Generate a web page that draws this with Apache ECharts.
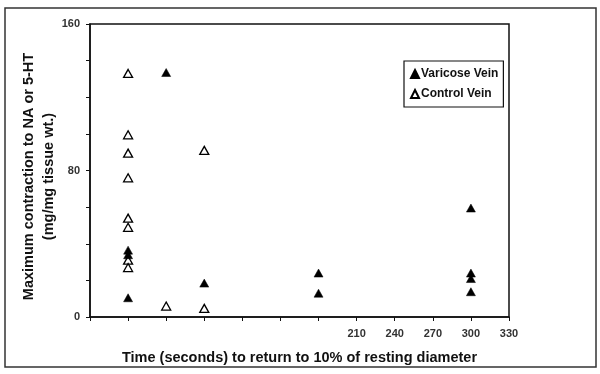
<!DOCTYPE html>
<html><head><meta charset="utf-8">
<script src="https://cdn.jsdelivr.net/npm/echarts@6/dist/echarts.min.js"></script>
<style>html,body{margin:0;padding:0;background:#fff}#c{width:600px;height:374px}</style>
</head><body><div id="c"></div>
<script>
var xTicks = [0,30,60,90,120,150,180,210,240,270,300,330];
var xLabelsShown = [210,240,270,300,330];
var yLabelsShown = [0,80,160];
var varicoseX = [30,30,30,60,90,180,180,300,300,300,300];
var varicoseY = [36.5,34,10.5,133.5,18.5,24,13,59.5,24,21,13.8];
var controlX = [30,30,30,30,30,30,30,30,60,90,90];
var controlY = [133,99.5,89.5,76,54,49,31,27,6,91,4.7];
function pairs(xs, ys){ return xs.map(function(x,i){return [x, ys[i]];}); }
var font = 'Liberation Sans, Arial, sans-serif';
var chart = echarts.init(document.getElementById('c'));
chart.setOption({
  animation:false,
  graphic:[{type:'rect', shape:{x:5,y:8,width:591,height:359}, style:{fill:'none', stroke:'#333', lineWidth:1.5}, z:-1}],
  grid:{left:90, top:24, right:91, bottom:57, show:true, borderColor:'#111', borderWidth:1.5, backgroundColor:'transparent'},
  legend:{
    orient:'vertical', left:404, top:61,
    backgroundColor:'#fff', borderColor:'#111', borderWidth:1.2,
    padding:[7,5,7,6], itemWidth:8, itemHeight:8, itemGap:8,
    textStyle:{fontFamily:font, fontWeight:'bold', fontSize:12, color:'#111', padding:[0,0,0,-3]},
    data:['Varicose Vein','Control Vein']
  },
  xAxis:{
    type:'value', min:0, max:330, interval:30,
    name:'Time (seconds) to return to 10% of resting diameter', nameLocation:'middle', nameGap:33, nameMoveOverlap:false,
    nameTextStyle:{fontFamily:font, fontWeight:'bold', fontSize:14.5, color:'#111'},
    axisLine:{show:true, lineStyle:{color:'#111', width:1.5}},
    axisTick:{show:true, length:4, lineStyle:{color:'#111'}},
    axisLabel:{fontFamily:font, fontWeight:'bold', fontSize:11, color:'#333', margin:11,
      formatter:function(v){ return xLabelsShown.indexOf(v)>=0 ? String(v) : ''; }},
    splitLine:{show:false}
  },
  yAxis:{
    type:'value', min:0, max:160, interval:20,
    name:'Maximum contraction to NA or 5-HT\n(mg/mg tissue wt.)', nameLocation:'middle', nameGap:31, nameMoveOverlap:false,
    nameTextStyle:{fontFamily:font, fontWeight:'bold', fontSize:14.5, color:'#111', lineHeight:20, padding:[0,12,0,0]},
    axisLine:{show:true, lineStyle:{color:'#111', width:1.5}},
    axisTick:{show:true, length:4, lineStyle:{color:'#111'}},
    axisLabel:{fontFamily:font, fontWeight:'bold', fontSize:11, color:'#333', margin:10,
      formatter:function(v){ return yLabelsShown.indexOf(v)>=0 ? String(v) : ''; }},
    splitLine:{show:false}
  },
  series:[
    {name:'Varicose Vein', type:'scatter', symbol:'triangle', symbolSize:[9,8],
     itemStyle:{color:'#000', borderColor:'#000', borderWidth:0.5, opacity:1},
     data:pairs(varicoseX, varicoseY), z:3},
    {name:'Control Vein', type:'scatter', symbol:'triangle', symbolSize:[9,8],
     itemStyle:{color:'#fff', borderColor:'#000', borderWidth:1.3, opacity:1},
     data:pairs(controlX, controlY), z:2}
  ]
});
</script></body></html>
